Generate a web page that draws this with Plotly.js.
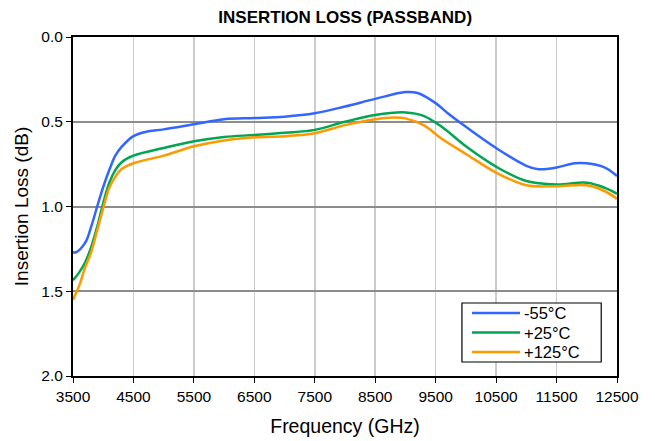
<!DOCTYPE html>
<html>
<head>
<meta charset="utf-8">
<script src="https://cdn.plot.ly/plotly-3.0.1.min.js"></script>
<style>html,body{margin:0;padding:0;background:#fff;}#chart{width:655px;height:441px;}</style>
</head>
<body>
<div id="chart"></div>
<script>
const freq_m55 = [3500, 3550, 3700, 3800, 3900, 4000, 4100, 4200, 4300, 4500, 4700, 5000, 5500, 6000, 6500, 7000, 7500, 8000, 8500, 9000, 9200, 9500, 9700, 10000, 10500, 11000, 11200, 11500, 11800, 12000, 12300, 12500];
const il_m55 =   [1.27, 1.27, 1.215, 1.12, 1.0, 0.885, 0.785, 0.70, 0.65, 0.585, 0.56, 0.545, 0.515, 0.485, 0.478, 0.47, 0.45, 0.41, 0.365, 0.325, 0.33, 0.39, 0.45, 0.53, 0.655, 0.76, 0.78, 0.77, 0.745, 0.745, 0.77, 0.82];

const freq_p25 = [3500, 3600, 3700, 3800, 3900, 4000, 4100, 4200, 4300, 4500, 5000, 5500, 6000, 6500, 7000, 7500, 8000, 8500, 9000, 9300, 9600, 10000, 10500, 11000, 11500, 12000, 12300, 12500];
const il_p25 =   [1.435, 1.39, 1.33, 1.24, 1.12, 0.98, 0.86, 0.785, 0.74, 0.70, 0.655, 0.615, 0.59, 0.578, 0.565, 0.548, 0.50, 0.46, 0.445, 0.465, 0.53, 0.645, 0.765, 0.85, 0.87, 0.86, 0.89, 0.925];

const freq_p125 = [3500, 3600, 3700, 3800, 3900, 4000, 4100, 4200, 4300, 4500, 5000, 5500, 6000, 6500, 7000, 7500, 8000, 8500, 8800, 9000, 9300, 9600, 10000, 10500, 11000, 11500, 12000, 12300, 12500];
const il_p125 =   [1.55, 1.47, 1.36, 1.27, 1.14, 1.01, 0.89, 0.825, 0.78, 0.745, 0.70, 0.645, 0.61, 0.592, 0.585, 0.568, 0.52, 0.485, 0.475, 0.48, 0.52, 0.60, 0.69, 0.80, 0.875, 0.88, 0.875, 0.91, 0.955];

const seriesNames = ['-55°C', '+25°C', '+125°C'];
const seriesColors = ['#3366ff', '#00a651', '#ff9900'];
const xTicks = [3500, 4500, 5500, 6500, 7500, 8500, 9500, 10500, 11500, 12500];
const yTicks = [0.0, 0.5, 1.0, 1.5, 2.0];

const xs = [freq_m55, freq_p25, freq_p125];
const ys = [il_m55, il_p25, il_p125];
const traces = xs.map((x, i) => ({
  x: x, y: ys[i], type: 'scatter', mode: 'lines', name: seriesNames[i],
  showlegend: false,
  line: {color: seriesColors[i], width: 2.5, shape: 'spline', smoothing: 1}
}));

const font = 'Arial, "Liberation Sans", sans-serif';

// legend drawn in paper coordinates from the series names/colours
const legBox = {x0: 0.715, x1: 0.971, y0: 0.0413, y1: 0.2153};
const legRows = [0.1858, 0.1283, 0.0708];
const shapes = [{type: 'rect', xref: 'paper', yref: 'paper', x0: legBox.x0, x1: legBox.x1, y0: legBox.y0, y1: legBox.y1,
  line: {color: '#000', width: 1.2}, fillcolor: '#fff', layer: 'above'}];
const annotations = [];
seriesNames.forEach((n, i) => {
  shapes.push({type: 'line', xref: 'paper', yref: 'paper', x0: 0.7335, x1: 0.8217, y0: legRows[i], y1: legRows[i],
    line: {color: seriesColors[i], width: 2.5}, layer: 'above'});
  annotations.push({xref: 'paper', yref: 'paper', x: 0.827, y: legRows[i], xanchor: 'left', yanchor: 'middle',
    text: n, showarrow: false, borderpad: 0, font: {family: font, size: 16.5, color: '#000'}});
});

const layout = {
  width: 655, height: 441,
  margin: {l: 73, r: 38, t: 37, b: 65},
  paper_bgcolor: '#fff', plot_bgcolor: '#fff',
  font: {family: font, color: '#000', size: 15},
  title: {text: '<b>INSERTION LOSS (PASSBAND)</b>', font: {family: font, size: 17, color: '#000'}, x: 0.527, xanchor: 'center', y: 0.962, yanchor: 'middle'},
  xaxis: {
    range: [3500, 12500], tickvals: xTicks, ticktext: xTicks.map(String),
    showgrid: true, gridcolor: '#cccccc', gridwidth: 1.5,
    showline: true, linecolor: '#000', linewidth: 2, mirror: true,
    ticks: 'outside', ticklen: 5, tickcolor: '#000', tickwidth: 1,
    zeroline: false,
    tickfont: {family: font, size: 15.5, color: '#000'},
    title: {text: 'Frequency (GHz)', font: {family: font, size: 19.5, color: '#000'}, standoff: 16}
  },
  yaxis: {
    range: [2.0, 0.0], tickvals: yTicks, ticktext: yTicks.map(v => v.toFixed(1)),
    showgrid: true, gridcolor: '#8c8c8c', gridwidth: 2,
    showline: true, linecolor: '#000', linewidth: 2, mirror: true,
    ticks: 'outside', ticklen: 5, tickcolor: '#000', tickwidth: 1,
    zeroline: false,
    tickfont: {family: font, size: 15.5, color: '#000'},
    title: {text: 'Insertion Loss (dB)', font: {family: font, size: 19, color: '#000'}, standoff: 8}
  },
  showlegend: false,
  shapes: shapes,
  annotations: annotations
};

Plotly.newPlot('chart', traces, layout, {displayModeBar: false, staticPlot: true});
</script>
</body>
</html>
